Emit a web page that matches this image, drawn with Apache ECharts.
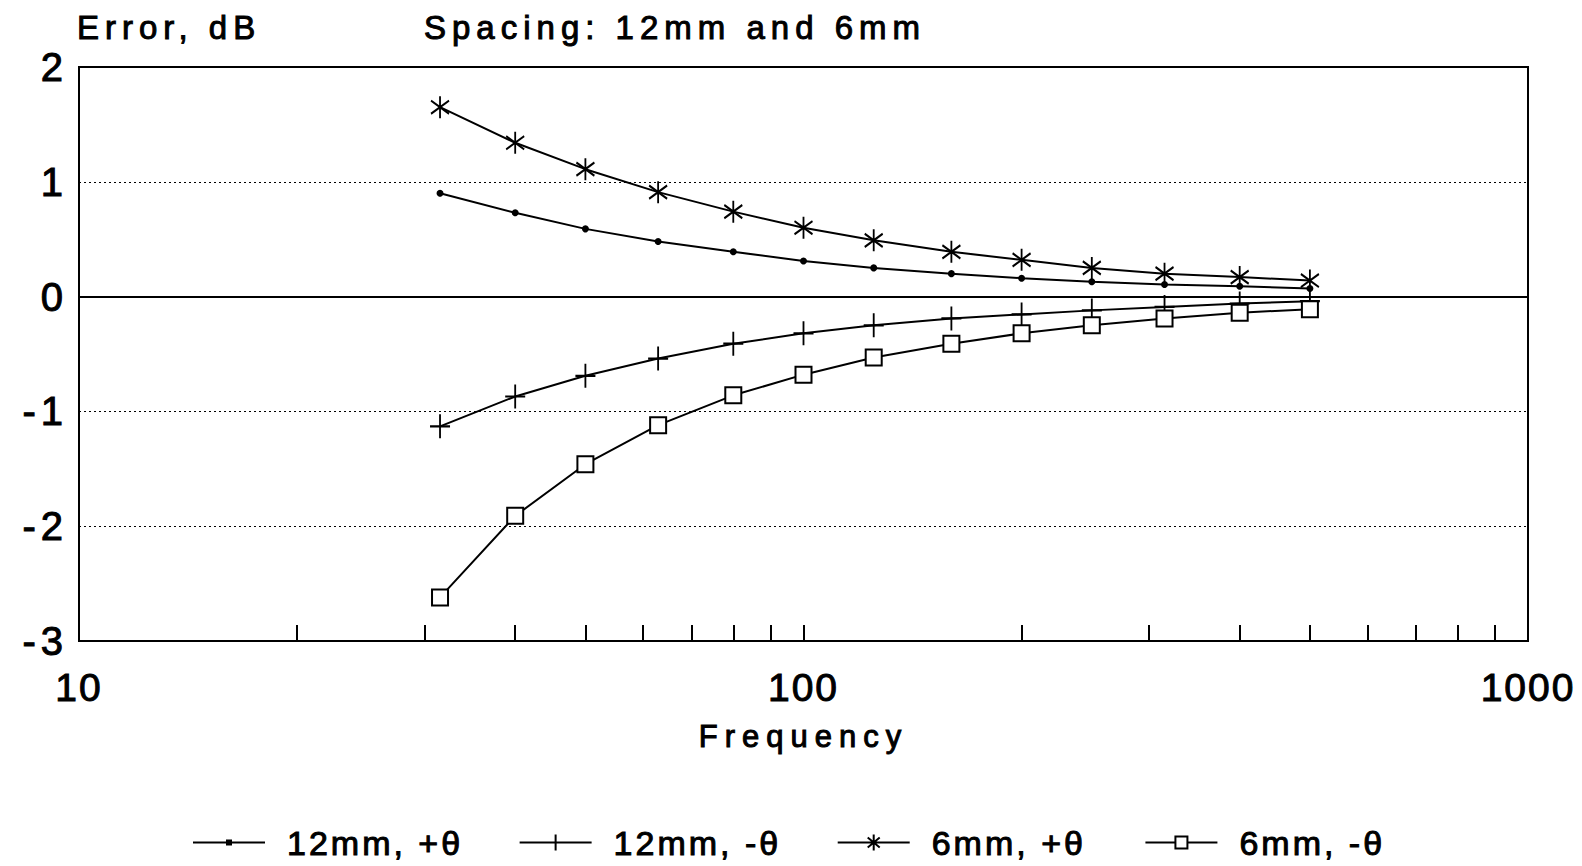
<!DOCTYPE html>
<html>
<head>
<meta charset="utf-8">
<script src="https://cdn.jsdelivr.net/npm/echarts@6/dist/echarts.min.js"></script>
<style>
  html, body { margin: 0; padding: 0; background: #fff; }
  #main { width: 1582px; height: 866px; }
</style>
</head>
<body>
<div id="main"></div>
<script>
// ---- data ----
const freqs = [31.5, 40, 50, 63, 80, 100, 125, 160, 200, 250, 315, 400, 500];
const err12Plus  = [0.90, 0.73, 0.59, 0.48, 0.39, 0.31, 0.25, 0.20, 0.16, 0.13, 0.105, 0.09, 0.07];
const err12Minus = [-1.13, -0.87, -0.69, -0.54, -0.41, -0.32, -0.25, -0.19, -0.155, -0.12, -0.09, -0.06, -0.04];
const err6Plus   = [1.65, 1.34, 1.11, 0.91, 0.74, 0.60, 0.49, 0.39, 0.32, 0.25, 0.20, 0.17, 0.14];
const err6Minus  = [-2.62, -1.91, -1.46, -1.12, -0.86, -0.68, -0.53, -0.41, -0.32, -0.25, -0.19, -0.14, -0.11];
const seriesNames = ['12mm, +θ', '12mm, -θ', '6mm, +θ', '6mm, -θ'];
const xTickValues = [20, 30, 40, 50, 60, 70, 80, 90, 100, 200, 300, 400, 500, 600, 700, 800, 900];
const xLabelValues = [10, 100, 1000];
const titleLeft = 'Error, dB';
const titleRight = 'Spacing: 12mm and 6mm';
const xName = 'Frequency';

const FONT = "'Liberation Sans', Arial, Helvetica, sans-serif";
const pairs = (ys) => freqs.map((f, i) => [f, ys[i]]);
const INK = { color: '#000', textBorderColor: '#000', textBorderWidth: 1 };

// marker shapes
const PLUS = 'path://M0,12 L20,12 M10,0 L10,24';
const STAR = 'path://M10,0 L10,20 M2,4 L18,16 M18,4 L2,16';

// legend icons (line + small marker), 89x20 box, visible line 0..72
const ICON_DOT = 'path://M36,0 L36,0 M89,20 L89,20 M0,10 L72,10 M34,8 L38,8 L38,12 L34,12 Z';
const ICON_PLUS = 'path://M36,0 L36,0 M89,20 L89,20 M0,10 L72,10 M36,2 L36,18';
const ICON_STAR = 'path://M36,0 L36,0 M89,20 L89,20 M0,10 L72,10 M36,2 L36,18 M30,5 L42,15 M42,5 L30,15';
const ICON_SQ = 'path://M36,0 L36,0 M89,20 L89,20 M0,10 L30,10 M42,10 L72,10 M30,4 L42,4 L42,16 L30,16 Z';

const chart = echarts.init(document.getElementById('main'), null, { renderer: 'svg' });

const lineStyle = { color: '#000', width: 2 };

const option = {
  animation: false,
  backgroundColor: '#fff',
  textStyle: { fontFamily: FONT, color: '#000' },
  title: [
    { text: titleLeft, left: 77, top: 11, padding: 0,
      textStyle: Object.assign({ fontFamily: FONT, fontSize: 33, fontWeight: 'normal' }, INK) },
    { text: titleRight, left: 424, top: 11, padding: 0,
      textStyle: Object.assign({ fontFamily: FONT, fontSize: 33, fontWeight: 'normal' }, INK) }
  ],
  legend: {
    left: 192, top: 825, padding: 0,
    itemWidth: 89, itemHeight: 20, itemGap: 79,
    textStyle: Object.assign({ fontFamily: FONT, fontSize: 34 }, INK),
    data: [
      { name: seriesNames[0], icon: ICON_DOT, itemStyle: { color: '#000', borderColor: '#000', borderWidth: 2 } },
      { name: seriesNames[1], icon: ICON_PLUS, itemStyle: { color: '#000', borderColor: '#000', borderWidth: 2 } },
      { name: seriesNames[2], icon: ICON_STAR, itemStyle: { color: '#000', borderColor: '#000', borderWidth: 2 } },
      { name: seriesNames[3], icon: ICON_SQ, itemStyle: { color: '#fff', borderColor: '#000', borderWidth: 2 } }
    ]
  },
  grid: {
    left: 79, right: 54, top: 67, bottom: 225,
    show: true, borderColor: '#000', borderWidth: 2, backgroundColor: 'transparent'
  },
  xAxis: {
    type: 'log', logBase: 10, min: 10, max: 1000,
    name: xName, nameLocation: 'middle', nameGap: 80,
    nameTextStyle: Object.assign({ fontFamily: FONT, fontSize: 31 }, INK),
    axisLine: { show: true, onZero: false, lineStyle: { color: '#000', width: 2 } },
    axisTick: { show: true, inside: true, length: 16, customValues: xTickValues,
      lineStyle: { color: '#000', width: 2 } },
    axisLabel: Object.assign({ show: true, customValues: xLabelValues, fontFamily: FONT, fontSize: 39, margin: 27,
      formatter: (v) => String(v) }, INK),
    minorTick: { show: false },
    splitLine: { show: false },
    minorSplitLine: { show: false }
  },
  yAxis: {
    type: 'value', min: -3, max: 2, interval: 1,
    axisLine: { show: true, onZero: false, lineStyle: { color: '#000', width: 2 } },
    axisTick: { show: false },
    axisLabel: Object.assign({ fontFamily: FONT, fontSize: 40, margin: 11, formatter: (v) => String(v) }, INK),
    splitLine: { show: true, lineStyle: { color: '#000', width: 1, type: [2, 3] } }
  },
  series: [
    {
      name: seriesNames[0], type: 'line', data: pairs(err12Plus),
      symbol: 'circle', symbolSize: 7,
      itemStyle: { color: '#000', borderColor: '#000', borderWidth: 0 },
      lineStyle: lineStyle,
      markLine: {
        silent: true, symbol: 'none', label: { show: false },
        lineStyle: { color: '#000', width: 2, type: 'solid' },
        data: [{ yAxis: 0 }]
      }
    },
    {
      name: seriesNames[1], type: 'line', data: pairs(err12Minus),
      symbol: PLUS, symbolSize: [20, 24],
      itemStyle: { color: '#000', borderColor: '#000', borderWidth: 2 },
      lineStyle: lineStyle
    },
    {
      name: seriesNames[2], type: 'line', data: pairs(err6Plus),
      symbol: STAR, symbolSize: [18, 22],
      itemStyle: { color: '#000', borderColor: '#000', borderWidth: 2 },
      lineStyle: lineStyle
    },
    {
      name: seriesNames[3], type: 'line', data: pairs(err6Minus),
      symbol: 'rect', symbolSize: 16,
      itemStyle: { color: '#fff', borderColor: '#000', borderWidth: 2 },
      lineStyle: lineStyle,
      z: 3
    }
  ]
};

chart.setOption(option);

// wide tracking like the original plotter lettering
function spacingFor(fs) {
  if (fs >= 40) return 5;   // y tick labels
  if (fs >= 38) return 2;   // x tick labels
  if (fs >= 34) return 3;   // legend
  if (fs >= 32) return 6;   // titles
  return 7;                 // axis name
}
function applySpacing() {
  document.querySelectorAll('#main svg text').forEach((t) => {
    const fs = parseFloat(getComputedStyle(t).fontSize) || 0;
    const v = spacingFor(fs) + 'px';
    if (t.getAttribute('letter-spacing') !== v) t.setAttribute('letter-spacing', v);
  });
}
applySpacing();
chart.on('finished', applySpacing);
const mo = new MutationObserver(applySpacing);
mo.observe(document.getElementById('main'), { childList: true, subtree: true });
let n = 0;
(function loop() { applySpacing(); if (n++ < 120) requestAnimationFrame(loop); })();
</script>
</body>
</html>
